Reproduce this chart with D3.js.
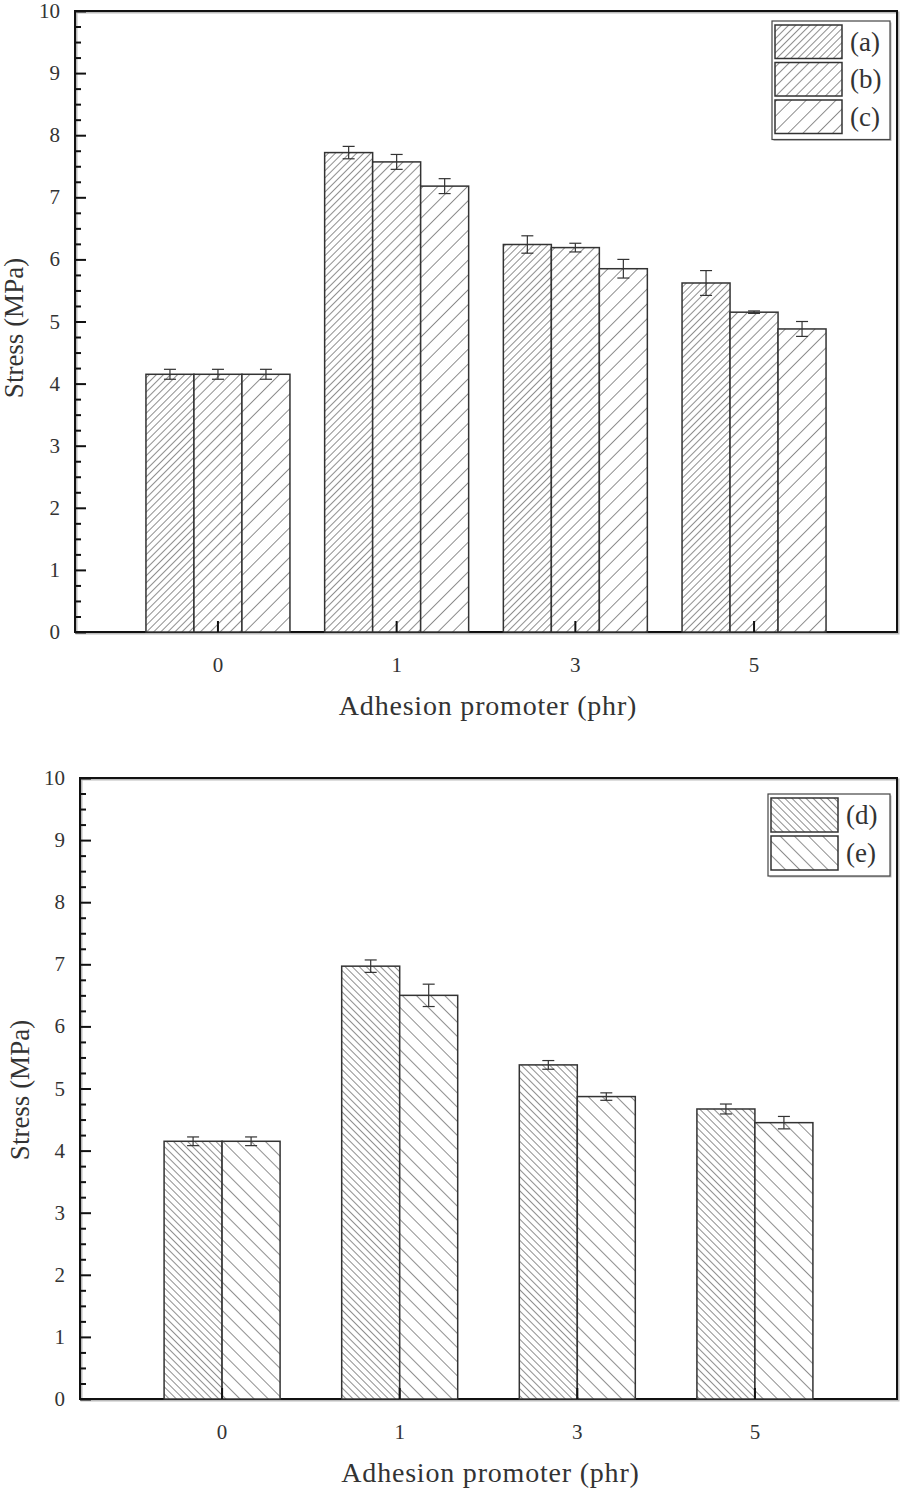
<!DOCTYPE html>
<html><head><meta charset="utf-8">
<script src="https://cdn.jsdelivr.net/npm/d3@7"></script>
<style>body{margin:0;background:#fff}svg text{font-family:"Liberation Serif","Times New Roman",serif;fill:#333}</style>
</head><body>
<svg id="c" width="905" height="1488"></svg>
<script>
const categories = ["0","1","3","5"];
const topSeries = ["(a)","(b)","(c)"];
const topValues = [[4.15,7.72,6.24,5.62],[4.15,7.57,6.19,5.15],[4.15,7.18,5.85,4.88]];
const topErrors = [[0.08,0.1,0.14,0.2],[0.08,0.12,0.07,0.02],[0.08,0.12,0.15,0.12]];
const botSeries = ["(d)","(e)"];
const botValues = [[4.15,6.97,5.38,4.67],[4.15,6.5,4.87,4.45]];
const botErrors = [[0.07,0.1,0.07,0.08],[0.07,0.18,0.06,0.1]];
const yTicks = [0,1,2,3,4,5,6,7,8,9,10];

const svg = d3.select("#c");
const defs = svg.append("defs");
function pat(id, spacing, angle){
  const p = defs.append("pattern").attr("id",id).attr("patternUnits","userSpaceOnUse")
    .attr("width",spacing).attr("height",spacing).attr("patternTransform",`rotate(${angle})`);
  p.append("rect").attr("width",spacing).attr("height",spacing).attr("fill","#fff");
  p.append("line").attr("x1",0).attr("y1",0).attr("x2",0).attr("y2",spacing).attr("stroke","#444").attr("stroke-width",1.2);
}
pat("pa",5,45); pat("pb",7,45); pat("pc",10.5,45);
pat("pd",5,-45); pat("pe",10,-45);

function chart(o){
  const g = svg.append("g");
  const {left,right,top,bottom} = o;
  const y = d3.scaleLinear().domain([0,10]).range([bottom,top]);
  const x = d3.scaleBand().domain(categories).range([left,right]).paddingInner(0.2).paddingOuter(0.4);
  const bw = o.barW;
  const n = o.values.length;
  g.append("rect").attr("x",left+1.5).attr("y",top+1.5).attr("width",right-left).attr("height",bottom-top).attr("fill","none").attr("stroke","#bbb").attr("stroke-width",2);
  g.append("rect").attr("x",left).attr("y",top).attr("width",right-left).attr("height",bottom-top).attr("fill","none").attr("stroke","#111").attr("stroke-width",2);
  o.values.forEach((vals,si)=>{
    vals.forEach((v,ci)=>{
      const cx = x(categories[ci]) + x.bandwidth()/2;
      const bx = cx - n*bw/2 + si*bw;
      g.append("rect").attr("x",bx).attr("y",y(v)).attr("width",bw).attr("height",y(0)-y(v))
        .attr("fill",`url(#${o.pats[si]})`).attr("stroke","#333").attr("stroke-width",1.5);
    });
  });
  o.values.forEach((vals,si)=>{
    vals.forEach((v,ci)=>{
      const cx = x(categories[ci]) + x.bandwidth()/2;
      const mx = cx - n*bw/2 + si*bw + bw/2;
      const e = o.errors[si][ci];
      const eg = g.append("g").attr("stroke","#333").attr("stroke-width",1.2);
      eg.append("line").attr("x1",mx).attr("x2",mx).attr("y1",y(v+e)).attr("y2",y(v-e));
      eg.append("line").attr("x1",mx-6).attr("x2",mx+6).attr("y1",y(v+e)).attr("y2",y(v+e));
      eg.append("line").attr("x1",mx-6).attr("x2",mx+6).attr("y1",y(v-e)).attr("y2",y(v-e));
    });
  });
  const ya = d3.axisRight(y).tickValues(yTicks).tickSize(11).tickFormat("");
  g.append("g").attr("transform",`translate(${left},0)`).call(ya)
    .call(s=>{s.select(".domain").remove(); s.selectAll("line").attr("stroke","#111").attr("stroke-width",2);});
  const minor = d3.range(0,10.01,0.25).filter(v=>Math.abs(v-Math.round(v))>0.01);
  g.append("g").attr("transform",`translate(${left},0)`).call(d3.axisRight(y).tickValues(minor).tickSize(6).tickFormat(""))
    .call(s=>{s.select(".domain").remove(); s.selectAll("line").attr("stroke","#111").attr("stroke-width",2);});
  g.selectAll(".ylab").data(yTicks).enter().append("text").attr("x",left-15).attr("y",d=>y(d)+7)
    .attr("text-anchor","end").attr("font-size",21).text(d=>d);
  g.append("g").attr("transform",`translate(0,${bottom})`).call(d3.axisTop(x).tickSize(11).tickFormat(""))
    .call(s=>{s.select(".domain").remove(); s.selectAll("line").attr("stroke","#111").attr("stroke-width",2);});
  g.selectAll(".xlab").data(categories).enter().append("text").attr("x",d=>x(d)+x.bandwidth()/2).attr("y",bottom+40)
    .attr("text-anchor","middle").attr("font-size",21).text(d=>d);
  g.append("text").attr("x",(left+right)/2+2).attr("y",bottom+83).attr("text-anchor","middle").attr("font-size",28)
    .attr("letter-spacing",0.8).text("Adhesion promoter (phr)");
  g.append("text").attr("transform",`translate(${o.ylabX},${o.ylabY}) rotate(-90)`).attr("text-anchor","middle").attr("font-size",27).text("Stress (MPa)");
  const L = o.legend;
  const H = L.rowH*n+6;
  g.append("rect").attr("x",L.x+1.5).attr("y",L.y+1.5).attr("width",L.w).attr("height",H).attr("fill","#bbb");
  g.append("rect").attr("x",L.x).attr("y",L.y).attr("width",L.w).attr("height",H).attr("fill","#fff").attr("stroke","#444").attr("stroke-width",1.2);
  o.series.forEach((s,i)=>{
    g.append("rect").attr("x",L.x+3).attr("y",L.y+4+i*L.rowH).attr("width",67).attr("height",L.rowH-4)
      .attr("fill",`url(#${o.pats[i]})`).attr("stroke","#333").attr("stroke-width",1.5);
    g.append("text").attr("x",L.x+78).attr("y",L.y+4+i*L.rowH+(L.rowH-4)/2+9).attr("font-size",27).text(s);
  });
}

chart({left:75,right:897,top:11,bottom:632,barW:48,values:topValues,errors:topErrors,series:topSeries,
  pats:["pa","pb","pc"],ylabX:23,ylabY:328,legend:{x:772,y:21,w:118,rowH:37.5}});
chart({left:80,right:897,top:778,bottom:1399,barW:58,values:botValues,errors:botErrors,series:botSeries,
  pats:["pd","pe"],ylabX:29,ylabY:1090,legend:{x:768,y:794,w:122,rowH:38}});
</script>
</body></html>
